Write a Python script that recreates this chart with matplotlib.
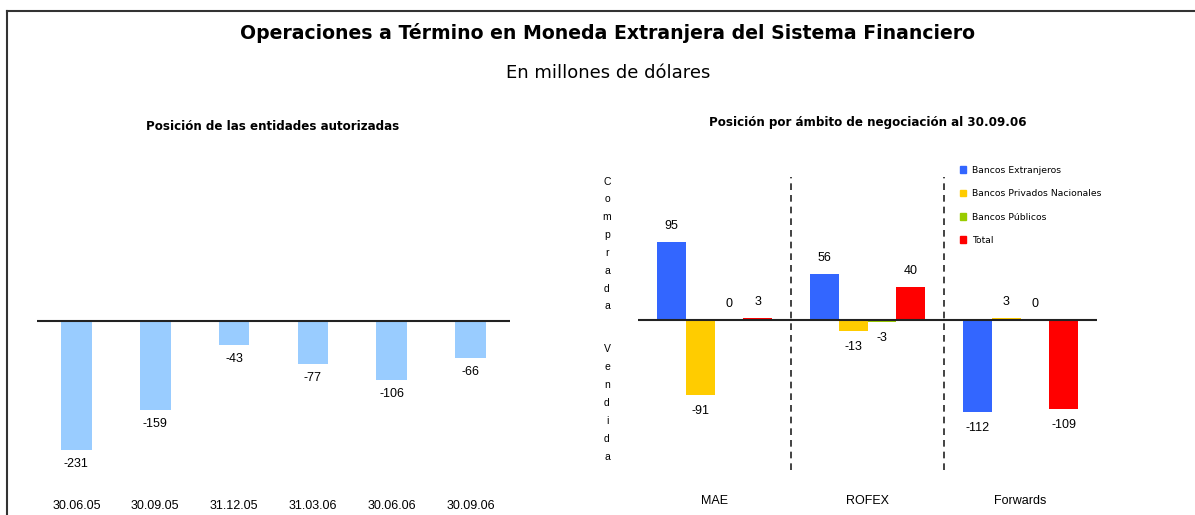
import matplotlib.pyplot as plt
from matplotlib.lines import Line2D
from matplotlib.patches import Patch

# datos
fechas = ['30.06.05', '30.09.05', '31.12.05', '31.03.06', '30.06.06', '30.09.06']
posicion = [-231, -159, -43, -77, -106, -66]

ambitos = ['MAE', 'ROFEX', 'Forwards']
series = ['Bancos Extranjeros', 'Bancos Privados Nacionales', 'Bancos Públicos', 'Total']
extranjeros = [95, 56, -112]
privados = [-91, -13, 3]
publicos = [0, -3, 0]
total = [3, 40, -109]
colores = ['#3366FF', '#FFCC00', '#99CC00', '#FF0000']

W, H = 1195, 515
fig = plt.figure(figsize=(W / 100, H / 100), dpi=100)


def box(x0, y0, x1, y1):
    # pixel box -> figure coords
    return [x0 / W, 1 - y1 / H, (x1 - x0) / W, (y1 - y0) / H]


num_font = 'Liberation Sans'

# marco
fig.add_artist(Line2D([7 / W, 1], [1 - 11 / H, 1 - 11 / H], color='#333333', lw=1.5))
fig.add_artist(Line2D([7 / W, 7 / W], [0, 1 - 11 / H], color='#333333', lw=1.5))

fig.text(608 / W, 1 - 33 / H, 'Operaciones a Término en Moneda Extranjera del Sistema Financiero',
         ha='center', va='center', fontsize=13.6, fontweight='bold', family='DejaVu Sans')
fig.text(608 / W, 1 - 73 / H, 'En millones de dólares', ha='center', va='center',
         fontsize=13, family='DejaVu Sans')

# panel izquierdo
ax1 = fig.add_axes(box(37, 140, 510, 492))
ax1.bar(range(len(fechas)), posicion, width=0.39, color='#99CCFF', zorder=2)
ax1.axhline(0, color='#222222', lw=1.5, zorder=3)
ax1.set_xlim(-0.5, len(fechas) - 0.5)
ax1.set_ylim(-(492 - 321) / 0.558, (321 - 140) / 0.558)
for i, v in enumerate(posicion):
    ax1.annotate(str(v), (i, v), xytext=(0, -14), textcoords='offset pixels',
                 ha='center', va='center', fontsize=9, family=num_font)
ax1.set_xticks(range(len(fechas)))
ax1.set_xticklabels(fechas, fontsize=9, family=num_font)
ax1.tick_params(axis='x', length=0, pad=6)
ax1.set_yticks([])
for s in ax1.spines.values():
    s.set_visible(False)
fig.text(273 / W, 1 - 126 / H, 'Posición de las entidades autorizadas', ha='center',
         va='center', fontsize=8.6, fontweight='bold')

# panel derecho
ax2 = fig.add_axes(box(638, 140, 1097, 492))
bw = 0.1875
offs = [-1.5 * bw, -0.5 * bw, 0.5 * bw, 1.5 * bw]
datos = [extranjeros, privados, publicos, total]
handles = []
for k, (vals, c) in enumerate(zip(datos, colores)):
    xs = [i + offs[k] for i in range(len(ambitos))]
    ax2.bar(xs, vals, width=bw, color=c, zorder=2)
    handles.append(Patch(color=c, label=series[k]))
    for x, v in zip(xs, vals):
        dy = 16 if v >= 0 else -16
        ax2.annotate(str(v), (x, v), xytext=(0, dy), textcoords='offset pixels',
                     ha='center', va='center', fontsize=9, family=num_font)
ax2.axhline(0, color='#222222', lw=1.5, zorder=3)
ax2.set_xlim(-0.5, 2.5)
ax2.set_ylim(-(492 - 320) / 0.82, (320 - 140) / 0.82)
for xv in [0.5, 1.5]:
    ax2.plot([xv, xv], [-(470 - 320) / 0.82, (320 - 177) / 0.82], color='#222222',
             lw=1.2, ls=(0, (4, 3)), zorder=1)
ax2.set_xticks(range(len(ambitos)))
ax2.set_xticklabels(ambitos, fontsize=9, family=num_font)
ax2.tick_params(axis='x', length=0, pad=2)
ax2.set_yticks([])
for s in ax2.spines.values():
    s.set_visible(False)
fig.text(868 / W, 1 - 123 / H, 'Posición por ámbito de negociación al 30.09.06',
         ha='center', va='center', fontsize=8.6, fontweight='bold')

fig.legend(handles=handles, loc='upper left', bbox_to_anchor=(956 / W, 1 - 162 / H),
           frameon=False, fontsize=6.7, handlelength=0.7, handleheight=0.7,
           handletextpad=0.6, labelspacing=1.55, borderaxespad=0)

fig.text(607 / W, 1 - 244 / H, '\n'.join('Comprada'), ha='center', va='center',
         fontsize=7.5, family=num_font, linespacing=1.98)
fig.text(607 / W, 1 - 403 / H, '\n'.join('Vendida'), ha='center', va='center',
         fontsize=7.5, family=num_font, linespacing=1.98)

fig.savefig('out.png', dpi=100)
